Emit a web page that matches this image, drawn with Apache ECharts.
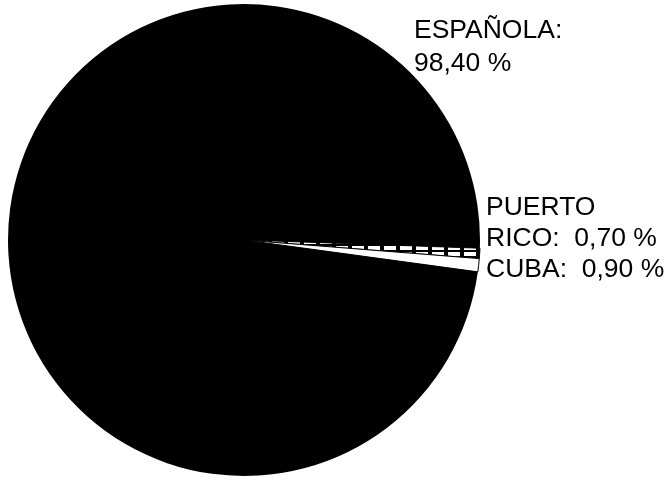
<!DOCTYPE html>
<html>
<head>
<meta charset="utf-8">
<script src="https://cdn.jsdelivr.net/npm/echarts@6/dist/echarts.min.js"></script>
<style>
html,body{margin:0;padding:0;background:#fff;}
#chart{width:664px;height:480px;}
</style>
</head>
<body>
<div id="chart"></div>
<script>
// Data
var categories = ['PUERTO RICO', 'CUBA', 'ESPAÑOLA'];
var values = [0.70, 0.90, 98.40];
var labelNames = ['PUERTO\nRICO', 'CUBA', 'ESPAÑOLA'];
var labelSeparators = ['  ', '  ', '\n'];

var chart = echarts.init(document.getElementById('chart'), null, {renderer: 'canvas'});

var labelPos = [
  {x: 486, y: 192},
  {x: 486, y: 254},
  {x: 414, y: 14}
];
var lineHeights = [31, 31, 33];

var data = categories.map(function (c, i) {
  var style;
  if (i === 0) {
    style = {
      color: '#000',
      borderColor: '#000',
      borderWidth: 0.8,
      decal: {
        symbol: 'rect',
        color: '#fff',
        symbolSize: 1,
        dashArrayX: [[12, 4]],
        dashArrayY: [3.5, 2],
        rotation: 0
      }
    };
  } else if (i === 1) {
    style = {color: '#fff', borderColor: '#000', borderWidth: 1};
  } else {
    style = {color: '#000', borderWidth: 0};
  }
  return {
    name: c,
    value: values[i],
    itemStyle: style,
    label: {lineHeight: lineHeights[i]}
  };
});

chart.setOption({
  animation: false,
  backgroundColor: '#fff',
  series: [{
    type: 'pie',
    center: [244, 240],
    radius: [0, 236],
    startAngle: -2,
    clockwise: true,
    avoidLabelOverlap: false,
    silent: true,
    data: data,
    label: {
      show: true,
      position: 'outside',
      color: '#000',
      fontFamily: 'Liberation Sans, Arial, sans-serif',
      fontSize: 26.5,
      formatter: function (p) {
        var i = p.dataIndex;
        return labelNames[i] + ':' + labelSeparators[i] +
          values[i].toFixed(2).replace('.', ',') + ' %';
      }
    },
    labelLine: {show: false},
    labelLayout: function (params) {
      var p = labelPos[params.dataIndex];
      return {x: p.x, y: p.y, align: 'left', verticalAlign: 'top', hideOverlap: false};
    }
  }]
});
</script>
</body>
</html>
